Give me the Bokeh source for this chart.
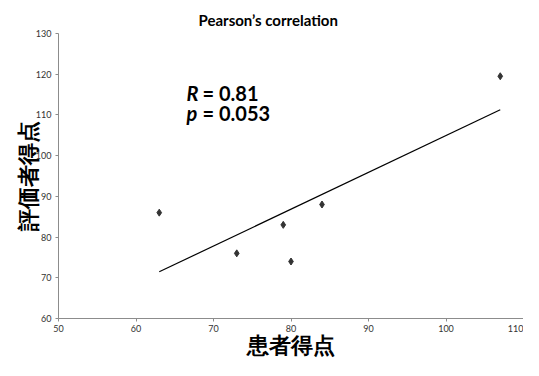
import numpy as np
from bokeh.plotting import figure
from bokeh.models import Label, Range1d, FixedTicker
from bokeh.embed import file_html
from bokeh.resources import INLINE

# data
patient_score = [63, 73, 79, 80, 84, 107]
rater_score = [86, 76, 83, 74, 88, 119.5]
x_ticks = [50, 60, 70, 80, 90, 100, 110]
y_ticks = [60, 70, 80, 90, 100, 110, 120, 130]
title_text = "Pearson\u2019s correlation"
x_label = "患者得点"
y_label = "評価者得点"
r_text = "= 0.81"
p_text = "= 0.053"

FONT = "Lato"

p = figure(width=523, height=360, output_backend="svg", toolbar_location=None,
           x_range=Range1d(50, 110), y_range=Range1d(60, 130),
           min_border_left=58, min_border_right=0, min_border_top=33, min_border_bottom=0)
p.outline_line_color = None
p.xgrid.visible = False
p.ygrid.visible = False
p.background_fill_color = "white"

p.title.text = title_text
p.title.align = "left"
p.title.offset = 140
p.title.text_font = FONT
p.title.text_font_size = "15px"
p.title.text_font_style = "bold"
p.title.text_color = "black"

for ax, ticks in ((p.xaxis, x_ticks), (p.yaxis, y_ticks)):
    ax.ticker = FixedTicker(ticks=ticks)
    ax.axis_line_color = "#8c8c8c"
    ax.axis_line_width = 1
    ax.major_tick_line_color = "#8c8c8c"
    ax.major_tick_out = 3
    ax.major_tick_in = 0
    ax.minor_tick_line_color = None
    ax.major_label_text_font = FONT
    ax.major_label_text_font_size = "9px"
    ax.major_label_text_color = "#333333"
    ax.axis_label_text_font = FONT
    ax.axis_label_text_font_style = "bold"
    ax.axis_label_text_font_size = "22px"
    ax.axis_label_text_color = "black"
p.xaxis.major_label_standoff = 3
p.yaxis.major_label_standoff = 4
p.xaxis.axis_label = x_label
p.yaxis.axis_label = y_label
p.xaxis.axis_label_standoff = -4
p.yaxis.axis_label_standoff = -8

# regression line from data
slope, intercept = np.polyfit(patient_score, rater_score, 1)
xs = [min(patient_score), max(patient_score)]
ys = [slope * v + intercept for v in xs]
p.line(xs, ys, line_color="black", line_width=1.2)

p.scatter(patient_score, rater_score, marker="diamond", size=7,
          fill_color="#333333", line_color="#333333")

def lab(text, x, y, size, italic=False):
    p.add_layout(Label(x=x, y=y, x_units="screen", y_units="screen", text=text,
                       text_font=FONT, text_font_size=size,
                       text_font_style="bold italic" if italic else "bold",
                       text_align="left", text_baseline="alphabetic",
                       text_color="black"))

lab("R", 128, 226, "20px", italic=True)
lab(r_text, 144, 226, "20px")
lab("p", 128, 206, "20px", italic=True)
lab(p_text, 144, 206, "20px")

open("out.html", "w").write(file_html(p, INLINE))
